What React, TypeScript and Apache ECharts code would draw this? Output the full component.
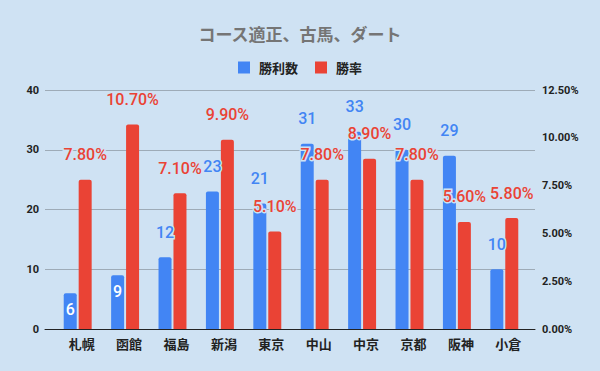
import React, { useEffect, useRef } from "react";
import * as echarts from "echarts";

const categories = ["札幌", "函館", "福島", "新潟", "東京", "中山", "中京", "京都", "阪神", "小倉"];
const wins = [6, 9, 12, 23, 21, 31, 33, 30, 29, 10];
const winRates = [7.8, 10.7, 7.1, 9.9, 5.1, 7.8, 8.9, 7.8, 5.6, 5.8];
const leftTicks = { min: 0, max: 40, interval: 10 };
const rightTicks = { min: 0, max: 12.5, interval: 2.5 };

const BG = "#cfe2f3";
const BLUE = "#4285f4";
const RED = "#ea4335";
const FONT = "Roboto, 'Noto Sans CJK JP', sans-serif";
const CJK = "'Noto Sans CJK JP', Roboto, sans-serif";

export default function App() {
  const ref = useRef<HTMLDivElement>(null);
  useEffect(() => {
    if (!ref.current) return;
    const chart = echarts.init(ref.current, null, { renderer: "svg" });
    const labelBase = {
      show: true,
      position: "top",
      distance: 17,
      fontSize: 16,
      fontFamily: FONT,
      fontWeight: 500,
      textBorderColor: BG,
      textBorderWidth: 3,
    };
    const gridTop = 90;
    const gridBottom = 42;
    chart.setOption({
      animation: false,
      backgroundColor: BG,
      title: {
        text: "コース適正、古馬、ダート",
        left: "center",
        top: 20,
        textStyle: { fontSize: 17, fontWeight: "bold", color: "#757575", fontFamily: CJK },
      },
      legend: {
        top: 56,
        left: "center",
        itemWidth: 12,
        itemHeight: 12,
        itemGap: 17,
        icon: "rect",
        textStyle: { fontSize: 13, fontWeight: "bold", color: "#222", fontFamily: CJK, padding: [0, 0, 0, 4] },
        data: ["勝利数", "勝率"],
      },
      grid: [
        { left: 45, right: 65, top: gridTop, bottom: gridBottom },
        { left: 54, right: 72, top: gridTop, bottom: gridBottom },
      ],
      xAxis: [
        {
          gridIndex: 0,
          type: "category",
          data: categories,
          axisLine: { show: true, lineStyle: { color: "#222", width: 1 } },
          axisTick: { show: false },
          axisLabel: { show: false },
        },
        {
          gridIndex: 1,
          type: "category",
          data: categories,
          axisLine: { show: false },
          axisTick: { show: false },
          axisLabel: {
            margin: 8,
            fontSize: 13,
            fontWeight: "bold",
            color: "#222",
            fontFamily: CJK,
            padding: [0, 0, 0, 8],
          },
        },
      ],
      yAxis: [
        {
          gridIndex: 0,
          type: "value",
          ...leftTicks,
          axisLine: { show: false },
          axisTick: { show: false },
          splitLine: { show: true, lineStyle: { color: "#9eabb7", width: 1 } },
          axisLabel: { margin: 6, fontSize: 11, fontWeight: "bold", color: "#222", fontFamily: FONT },
        },
        {
          gridIndex: 0,
          type: "value",
          position: "right",
          ...rightTicks,
          axisLine: { show: false },
          axisTick: { show: false },
          splitLine: { show: false },
          axisLabel: {
            margin: 7,
            fontSize: 11,
            fontWeight: "bold",
            color: "#222",
            fontFamily: FONT,
            formatter: (v: number) => v.toFixed(2) + "%",
          },
        },
        {
          gridIndex: 1,
          type: "value",
          ...leftTicks,
          show: false,
        },
        {
          gridIndex: 1,
          type: "value",
          position: "right",
          ...rightTicks,
          show: false,
        },
      ],
      series: [
        {
          name: "勝利数",
          type: "bar",
          xAxisIndex: 1,
          yAxisIndex: 2,
          barWidth: 13,
          barGap: "15%",
          itemStyle: { color: BLUE, borderRadius: [2, 2, 0, 0] },
          label: { ...labelBase, color: BLUE },
          data: wins.map((v) =>
            v < 10
              ? {
                  value: v,
                  label: { position: "insideTop", distance: 8, color: "#fff", textBorderWidth: 0 },
                }
              : v
          ),
        },
        {
          name: "勝率",
          type: "bar",
          xAxisIndex: 1,
          yAxisIndex: 3,
          barWidth: 13,
          barGap: "15%",
          itemStyle: { color: RED, borderRadius: [2, 2, 0, 0] },
          label: {
            ...labelBase,
            color: RED,
            formatter: (p: any) => Number(p.value).toFixed(2) + "%",
          },
          data: winRates,
        },
      ],
    });
    return () => chart.dispose();
  }, []);
  return <div ref={ref} style={{ width: 600, height: 371, position: "absolute", left: 0, top: 0 }} />;
}
